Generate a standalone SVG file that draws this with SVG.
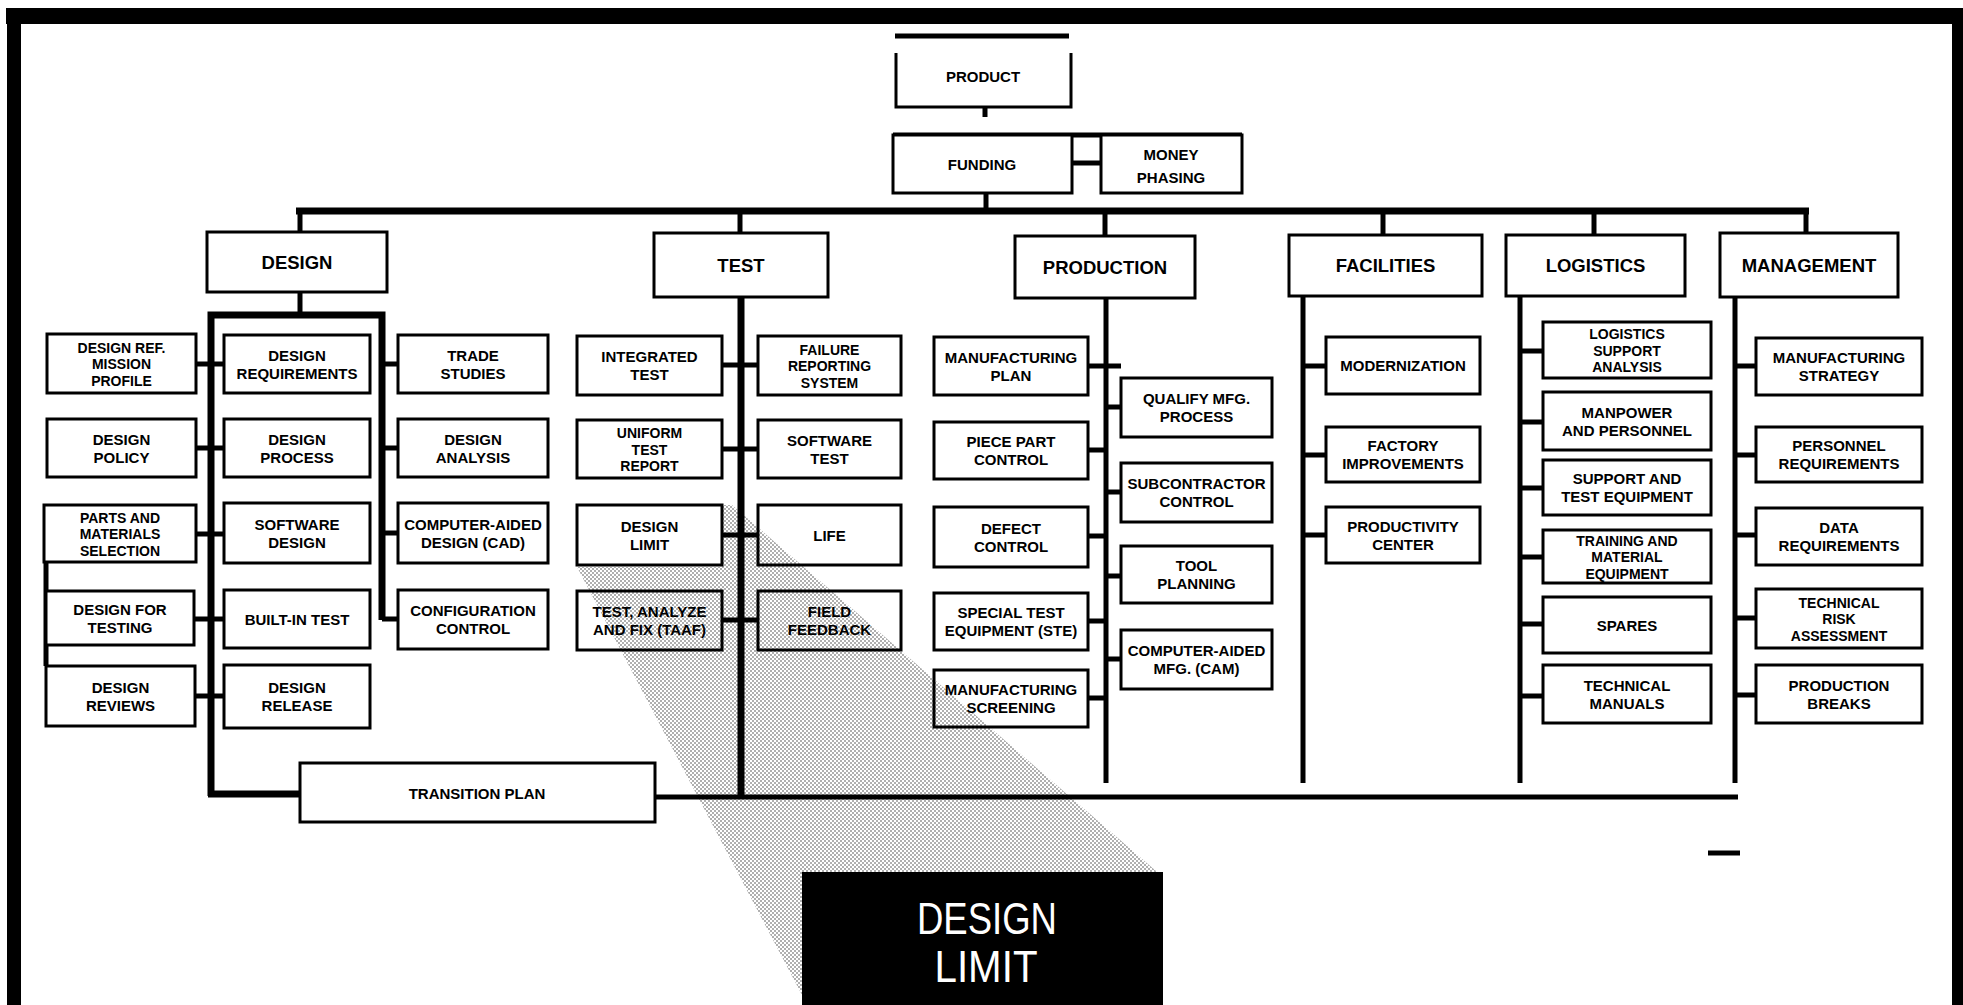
<svg xmlns="http://www.w3.org/2000/svg" width="1963" height="1005" viewBox="0 0 1963 1005">
<style>
.box{fill:#fff;stroke:#000;stroke-width:3}
.t{font-family:"Liberation Sans",Arial,sans-serif;font-weight:bold;font-size:15px;text-anchor:middle;fill:#000}
.t3{font-size:14px}
.cat{font-size:18.5px}
.c{stroke:#000;fill:none;stroke-width:5}
.s{stroke-width:7}
.big{font-family:"Liberation Sans",Arial,sans-serif;font-size:44px;text-anchor:middle;fill:#fff}
</style>
<defs>
<pattern id="dots" width="4" height="4" patternUnits="userSpaceOnUse">
<circle cx="1" cy="1" r="1" fill="#000"/>
<circle cx="3" cy="3" r="1" fill="#000"/>
</pattern>
</defs>
<rect width="1963" height="1005" fill="#fff"/>
<g id="frame">
<rect x="6" y="8" width="1957" height="16" fill="#000"/>
<rect x="7" y="8" width="14" height="997" fill="#000"/>
<rect x="1952" y="8" width="11" height="997" fill="#000"/>
</g>
<g id="connectors">
<line class="c" x1="895" y1="36" x2="1069" y2="36" stroke-width="4"/>
<line class="c" x1="985" y1="107" x2="985" y2="117"/>
<line class="c" x1="893" y1="135" x2="1242" y2="135"/>
<line class="c" x1="1072" y1="163" x2="1101" y2="163"/>
<line class="c" x1="986" y1="193" x2="986" y2="211" stroke-width="6"/>
<line class="c s" x1="296" y1="211" x2="1809" y2="211"/>
<line class="c" x1="300" y1="211" x2="300" y2="232" stroke-width="6"/>
<line class="c" x1="740" y1="211" x2="740" y2="233" stroke-width="6"/>
<line class="c" x1="1105" y1="211" x2="1105" y2="236" stroke-width="6"/>
<line class="c" x1="1383" y1="211" x2="1383" y2="235" stroke-width="6"/>
<line class="c" x1="1594" y1="211" x2="1594" y2="235" stroke-width="6"/>
<line class="c" x1="1806" y1="211" x2="1806" y2="233" stroke-width="6"/>
<line class="c" x1="300" y1="292" x2="300" y2="315" stroke-width="6"/>
<path class="c s" d="M211,796 V315 H382 V620 M208,794 H300"/>
<path class="c" d="M196,364 H224 M196,448 H224 M196,534 H224 M194,619 H224 M195,696 H224 M382,364 H398 M382,448 H398 M382,533 H398 M382,619 H398"/>
<line class="c" x1="46" y1="562" x2="46" y2="666" stroke-width="2.5"/>
<line class="c" x1="655" y1="797" x2="1738" y2="797" stroke-width="9"/>
<line class="c s" x1="741" y1="297" x2="741" y2="797"/>
<path class="c" d="M722,365 H758 M722,449 H758 M722,535 H758 M722,620 H758"/>
<line class="c" x1="1106" y1="298" x2="1106" y2="783" stroke-width="6"/>
<path class="c" d="M1088,366 H1121 M1088,450 H1106 M1088,536 H1106 M1088,621 H1106 M1088,698 H1106 M1106,407 H1121 M1106,492 H1121 M1106,576 H1121 M1106,659 H1121"/>
<line class="c" x1="1303" y1="296" x2="1303" y2="783" stroke-width="6"/>
<path class="c" d="M1303,366 H1326 M1303,455 H1326 M1303,535 H1326"/>
<line class="c" x1="1520" y1="296" x2="1520" y2="783" stroke-width="6"/>
<path class="c" d="M1520,351 H1543 M1520,422 H1543 M1520,488 H1543 M1520,557 H1543 M1520,624 H1543 M1520,696 H1543"/>
<line class="c" x1="1735" y1="297" x2="1735" y2="783" stroke-width="6"/>
<path class="c" d="M1735,366 H1756 M1735,455 H1756 M1735,535 H1756 M1735,618 H1756 M1735,695 H1756"/>
<line class="c" x1="1708" y1="853" x2="1740" y2="853" stroke-width="1.5"/>
</g>
<g id="product">
<path d="M896,53 V107 H1071 V53" fill="#fff" stroke="#000" stroke-width="3"/>
<text class="t" x="983" y="82" font-size="17">PRODUCT</text>
</g>
<g id="funding"><rect class="box" x="893" y="135" width="179" height="58"/><text class="t" x="982" y="170" font-size="17">FUNDING</text></g>
<g id="money-phasing"><rect class="box" x="1101" y="135" width="141" height="58"/><text class="t" x="1171" y="160" font-size="14">MONEY</text><text class="t" x="1171" y="183" font-size="14">PHASING</text></g>
<g id="cat-design"><rect class="box" x="207" y="232" width="180" height="60"/><text class="t cat" x="297" y="268.5">DESIGN</text></g>
<g id="cat-test"><rect class="box" x="654" y="233" width="174" height="64"/><text class="t cat" x="741" y="271.5">TEST</text></g>
<g id="cat-production"><rect class="box" x="1015" y="236" width="180" height="62"/><text class="t cat" x="1105" y="273.5">PRODUCTION</text></g>
<g id="cat-facilities"><rect class="box" x="1289" y="235" width="193" height="61"/><text class="t cat" x="1385.5" y="272">FACILITIES</text></g>
<g id="cat-logistics"><rect class="box" x="1506" y="235" width="179" height="61"/><text class="t cat" x="1595.5" y="272">LOGISTICS</text></g>
<g id="cat-management"><rect class="box" x="1720" y="233" width="178" height="64"/><text class="t cat" x="1809" y="271.5">MANAGEMENT</text></g>
<g id="design-ref"><rect class="box" x="47" y="334" width="149" height="59"/><text class="t t3" x="121.5" y="352.5">DESIGN REF.</text><text class="t t3" x="121.5" y="369">MISSION</text><text class="t t3" x="121.5" y="385.5">PROFILE</text></g>
<g id="design-policy"><rect class="box" x="47" y="419" width="149" height="58"/><text class="t" x="121.5" y="444.5">DESIGN</text><text class="t" x="121.5" y="462.5">POLICY</text></g>
<g id="parts"><rect class="box" x="44" y="505" width="152" height="57"/><text class="t t3" x="120" y="522.5">PARTS AND</text><text class="t t3" x="120" y="539">MATERIALS</text><text class="t t3" x="120" y="555.5">SELECTION</text></g>
<g id="design-testing"><rect class="box" x="46" y="591" width="148" height="54"/><text class="t" x="120" y="614.5">DESIGN FOR</text><text class="t" x="120" y="632.5">TESTING</text></g>
<g id="design-reviews"><rect class="box" x="46" y="666" width="149" height="60"/><text class="t" x="120.5" y="692.5">DESIGN</text><text class="t" x="120.5" y="710.5">REVIEWS</text></g>
<g id="design-req"><rect class="box" x="224" y="335" width="146" height="58"/><text class="t" x="297" y="360.5">DESIGN</text><text class="t" x="297" y="378.5">REQUIREMENTS</text></g>
<g id="design-process"><rect class="box" x="224" y="419" width="146" height="58"/><text class="t" x="297" y="444.5">DESIGN</text><text class="t" x="297" y="462.5">PROCESS</text></g>
<g id="software-design"><rect class="box" x="224" y="503" width="146" height="60"/><text class="t" x="297" y="529.5">SOFTWARE</text><text class="t" x="297" y="547.5">DESIGN</text></g>
<g id="built-in-test"><rect class="box" x="224" y="590" width="146" height="58"/><text class="t" x="297" y="624.5">BUILT-IN TEST</text></g>
<g id="design-release"><rect class="box" x="224" y="665" width="146" height="63"/><text class="t" x="297" y="693">DESIGN</text><text class="t" x="297" y="711">RELEASE</text></g>
<g id="trade-studies"><rect class="box" x="398" y="335" width="150" height="58"/><text class="t" x="473" y="360.5">TRADE</text><text class="t" x="473" y="378.5">STUDIES</text></g>
<g id="design-analysis"><rect class="box" x="398" y="419" width="150" height="58"/><text class="t" x="473" y="444.5">DESIGN</text><text class="t" x="473" y="462.5">ANALYSIS</text></g>
<g id="cad"><rect class="box" x="398" y="503" width="150" height="60"/><text class="t" x="473" y="529.5">COMPUTER-AIDED</text><text class="t" x="473" y="547.5">DESIGN (CAD)</text></g>
<g id="config"><rect class="box" x="398" y="590" width="150" height="59"/><text class="t" x="473" y="616">CONFIGURATION</text><text class="t" x="473" y="634">CONTROL</text></g>
<g id="transition-plan"><rect class="box" x="300" y="763" width="355" height="59"/><text class="t" x="477" y="799" font-size="17">TRANSITION PLAN</text></g>
<g id="integrated-test"><rect class="box" x="577" y="336" width="145" height="59"/><text class="t" x="649.5" y="362">INTEGRATED</text><text class="t" x="649.5" y="380">TEST</text></g>
<g id="uniform-test"><rect class="box" x="577" y="420" width="145" height="58"/><text class="t t3" x="649.5" y="438">UNIFORM</text><text class="t t3" x="649.5" y="454.5">TEST</text><text class="t t3" x="649.5" y="471">REPORT</text></g>
<g id="design-limit"><rect class="box" x="577" y="505" width="145" height="60"/><text class="t" x="649.5" y="531.5">DESIGN</text><text class="t" x="649.5" y="549.5">LIMIT</text></g>
<g id="taaf"><rect class="box" x="577" y="591" width="145" height="59"/><text class="t" x="649.5" y="617">TEST, ANALYZE</text><text class="t" x="649.5" y="635">AND FIX (TAAF)</text></g>
<g id="failure-reporting"><rect class="box" x="758" y="336" width="143" height="59"/><text class="t t3" x="829.5" y="354.5">FAILURE</text><text class="t t3" x="829.5" y="371">REPORTING</text><text class="t t3" x="829.5" y="387.5">SYSTEM</text></g>
<g id="software-test"><rect class="box" x="758" y="420" width="143" height="58"/><text class="t" x="829.5" y="445.5">SOFTWARE</text><text class="t" x="829.5" y="463.5">TEST</text></g>
<g id="life"><rect class="box" x="758" y="505" width="143" height="60"/><text class="t" x="829.5" y="540.5">LIFE</text></g>
<g id="field-feedback"><rect class="box" x="758" y="591" width="143" height="59"/><text class="t" x="829.5" y="617">FIELD</text><text class="t" x="829.5" y="635">FEEDBACK</text></g>
<g id="mfg-plan"><rect class="box" x="934" y="337" width="154" height="58"/><text class="t" x="1011" y="362.5">MANUFACTURING</text><text class="t" x="1011" y="380.5">PLAN</text></g>
<g id="piece-part"><rect class="box" x="934" y="422" width="154" height="57"/><text class="t" x="1011" y="447">PIECE PART</text><text class="t" x="1011" y="465">CONTROL</text></g>
<g id="defect-control"><rect class="box" x="934" y="507" width="154" height="60"/><text class="t" x="1011" y="533.5">DEFECT</text><text class="t" x="1011" y="551.5">CONTROL</text></g>
<g id="ste"><rect class="box" x="934" y="593" width="154" height="57"/><text class="t" x="1011" y="618">SPECIAL TEST</text><text class="t" x="1011" y="636" font-size="14">EQUIPMENT (STE)</text></g>
<g id="mfg-screening"><rect class="box" x="934" y="670" width="154" height="57"/><text class="t" x="1011" y="695">MANUFACTURING</text><text class="t" x="1011" y="713">SCREENING</text></g>
<g id="qualify"><rect class="box" x="1121" y="378" width="151" height="59"/><text class="t" x="1196.5" y="404">QUALIFY MFG.</text><text class="t" x="1196.5" y="422">PROCESS</text></g>
<g id="subcontractor"><rect class="box" x="1121" y="463" width="151" height="59"/><text class="t" x="1196.5" y="489">SUBCONTRACTOR</text><text class="t" x="1196.5" y="507">CONTROL</text></g>
<g id="tool-planning"><rect class="box" x="1121" y="546" width="151" height="57"/><text class="t" x="1196.5" y="571">TOOL</text><text class="t" x="1196.5" y="589">PLANNING</text></g>
<g id="cam"><rect class="box" x="1121" y="630" width="151" height="59"/><text class="t" x="1196.5" y="656">COMPUTER-AIDED</text><text class="t" x="1196.5" y="674">MFG. (CAM)</text></g>
<g id="modernization"><rect class="box" x="1326" y="337" width="154" height="57"/><text class="t" x="1403" y="371">MODERNIZATION</text></g>
<g id="factory"><rect class="box" x="1326" y="427" width="154" height="55"/><text class="t" x="1403" y="451">FACTORY</text><text class="t" x="1403" y="469">IMPROVEMENTS</text></g>
<g id="productivity"><rect class="box" x="1326" y="507" width="154" height="56"/><text class="t" x="1403" y="531.5">PRODUCTIVITY</text><text class="t" x="1403" y="549.5">CENTER</text></g>
<g id="lsa"><rect class="box" x="1543" y="322" width="168" height="56"/><text class="t t3" x="1627" y="339">LOGISTICS</text><text class="t t3" x="1627" y="355.5">SUPPORT</text><text class="t t3" x="1627" y="372">ANALYSIS</text></g>
<g id="manpower"><rect class="box" x="1543" y="392" width="168" height="58"/><text class="t" x="1627" y="417.5">MANPOWER</text><text class="t" x="1627" y="435.5">AND PERSONNEL</text></g>
<g id="support-test"><rect class="box" x="1543" y="460" width="168" height="55"/><text class="t" x="1627" y="484">SUPPORT AND</text><text class="t" x="1627" y="502">TEST EQUIPMENT</text></g>
<g id="training"><rect class="box" x="1543" y="530" width="168" height="53"/><text class="t t3" x="1627" y="545.5">TRAINING AND</text><text class="t t3" x="1627" y="562">MATERIAL</text><text class="t t3" x="1627" y="578.5">EQUIPMENT</text></g>
<g id="spares"><rect class="box" x="1543" y="597" width="168" height="56"/><text class="t" x="1627" y="630.5">SPARES</text></g>
<g id="tech-manuals"><rect class="box" x="1543" y="665" width="168" height="58"/><text class="t" x="1627" y="690.5">TECHNICAL</text><text class="t" x="1627" y="708.5">MANUALS</text></g>
<g id="mfg-strategy"><rect class="box" x="1756" y="338" width="166" height="57"/><text class="t" x="1839" y="363">MANUFACTURING</text><text class="t" x="1839" y="381">STRATEGY</text></g>
<g id="personnel-req"><rect class="box" x="1756" y="427" width="166" height="55"/><text class="t" x="1839" y="451">PERSONNEL</text><text class="t" x="1839" y="469">REQUIREMENTS</text></g>
<g id="data-req"><rect class="box" x="1756" y="508" width="166" height="57"/><text class="t" x="1839" y="533">DATA</text><text class="t" x="1839" y="551">REQUIREMENTS</text></g>
<g id="tech-risk"><rect class="box" x="1756" y="589" width="166" height="59"/><text class="t t3" x="1839" y="607.5">TECHNICAL</text><text class="t t3" x="1839" y="624">RISK</text><text class="t t3" x="1839" y="640.5">ASSESSMENT</text></g>
<g id="production-breaks"><rect class="box" x="1756" y="665" width="166" height="58"/><text class="t" x="1839" y="690.5">PRODUCTION</text><text class="t" x="1839" y="708.5">BREAKS</text></g>
<g id="shading">
<polygon points="722,505 732,505 1163,877 1163,1005 802,1005 802,995 577,567 722,567" fill="url(#dots)" opacity="0.42"/>
</g>
<g id="callout">
<rect x="802" y="872" width="361" height="140" fill="#000"/>
<text class="big" x="987" y="934" textLength="140" lengthAdjust="spacingAndGlyphs">DESIGN</text>
<text class="big" x="986" y="982" textLength="103" lengthAdjust="spacingAndGlyphs">LIMIT</text>
</g>
</svg>
